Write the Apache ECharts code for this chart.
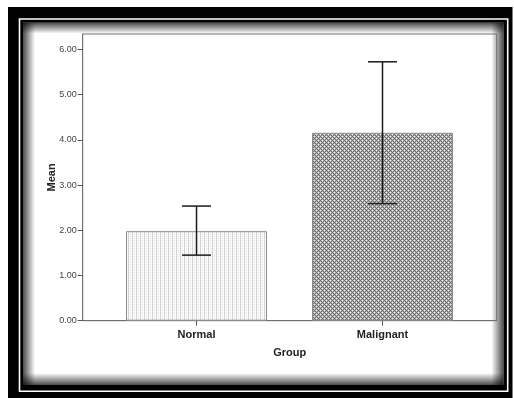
<!DOCTYPE html>
<html lang="en">
<head>
  <meta charset="UTF-8">
  <title>Mean by Group</title>
  <style>
    html, body { margin: 0; padding: 0; background: #fff; }
    #chart { width: 514px; height: 398px; }
  </style>
</head>
<body>
  <div id="chart"></div>
  <script src="https://cdn.jsdelivr.net/npm/echarts@6.0.0/dist/echarts.min.js"></script>
  <script>
    // data
    const categories = ['Normal', 'Malignant'];
    const means = [1.98, 4.155];
    const errLow = [1.45, 2.59];
    const errHigh = [2.535, 5.725];
    const yTicks = [0, 1, 2, 3, 4, 5, 6];
    const catPos = [0, 1];

    // fill patterns drawn on small canvases
    function makeTile(size, paint) {
      const c = document.createElement('canvas');
      c.width = size; c.height = size;
      const ctx = c.getContext('2d');
      for (let y = 0; y < size; y++) {
        for (let x = 0; x < size; x++) {
          ctx.fillStyle = paint(x, y);
          ctx.fillRect(x, y, 1, 1);
        }
      }
      return c;
    }
    // light dotted vertical stripes
    const dotTile = makeTile(4, (x, y) => {
      if (x === 0) return y % 2 === 0 ? '#c4c4c4' : '#e2e2e2';
      return x === 2 ? '#f0f0f0' : '#fbfbfb';
    });
    // diamond cross hatch
    const hatchTile = makeTile(4, (x, y) => {
      if ((x + y) % 4 === 0 || (x - y + 4) % 4 === 0) return '#6c6c6c';
      if ((x === 2 && y === 0) || (x === 0 && y === 2)) return '#f4f4f4';
      return '#b4b4b4';
    });
    const patterns = [dotTile, hatchTile];

    const chart = echarts.init(document.getElementById('chart'));

    const shade = (x, y, w, h, gx, gy, gx2, gy2) => ({
      type: 'rect', z: -50, silent: true,
      shape: { x: x, y: y, width: w, height: h },
      style: {
        fill: new echarts.graphic.LinearGradient(gx, gy, gx2, gy2, [
          { offset: 0, color: 'rgba(0,0,0,0.7)' },
          { offset: 1, color: 'rgba(0,0,0,0)' }
        ])
      }
    });

    const option = {
      animation: false,
      backgroundColor: '#fff',
      textStyle: { fontFamily: '"Liberation Sans", Arial, sans-serif' },
      graphic: [
        { type: 'rect', z: -100, silent: true, shape: { x: 8, y: 7, width: 504.5, height: 392 }, style: { fill: '#000' } },
        { type: 'rect', z: -99, silent: true, shape: { x: 19.5, y: 19, width: 488.2, height: 372.3 }, style: { fill: 'none', stroke: '#fff', lineWidth: 1.6 } },
        { type: 'rect', z: -98, silent: true, shape: { x: 23, y: 22.7, width: 480.5, height: 362.3 }, style: { fill: '#fff' } },
        shade(23, 22.7, 12, 362.3, 0, 0, 1, 0),
        shade(23, 22.7, 480.5, 11, 0, 0, 0, 1),
        shade(491.5, 22.7, 12, 362.3, 1, 0, 0, 0),
        shade(23, 373, 480.5, 12, 0, 1, 0, 0)
      ],
      grid: {
        left: 82.7,
        top: 34,
        right: 17.3,
        bottom: 77.3,
        show: true,
        borderColor: '#707070',
        borderWidth: 1,
        containLabel: false,
        outerBoundsMode: 'none'
      },
      xAxis: {
        type: 'value',
        min: -0.612,
        max: 1.614,
        name: 'Group',
        nameLocation: 'middle',
        nameGap: 27,
        nameMoveOverlap: false,
        nameTextStyle: { fontSize: 11, fontWeight: 'bold', color: '#222' },
        axisLine: { show: true, onZero: false, lineStyle: { color: '#707070' } },
        axisTick: { show: true, length: 5, customValues: catPos, lineStyle: { color: '#555' } },
        axisLabel: {
          customValues: catPos,
          margin: 9,
          fontSize: 11,
          fontWeight: 'bold',
          color: '#222',
          formatter: v => categories[Math.round(v)]
        },
        splitLine: { show: false }
      },
      yAxis: {
        type: 'value',
        min: 0,
        max: 6.34,
        name: 'Mean',
        nameLocation: 'middle',
        nameGap: 25,
        nameMoveOverlap: false,
        nameTextStyle: { fontSize: 11, fontWeight: 'bold', color: '#222' },
        axisLine: { show: true, onZero: false, lineStyle: { color: '#707070' } },
        axisTick: { show: true, length: 5, customValues: yTicks, lineStyle: { color: '#555' } },
        axisLabel: {
          customValues: yTicks,
          margin: 6,
          fontSize: 9,
          color: '#444',
          formatter: v => v.toFixed(2)
        },
        splitLine: { show: false }
      },
      series: [
        {
          type: 'bar',
          barWidth: 141,
          data: means.map((m, i) => ({
            value: [catPos[i], m],
            itemStyle: {
              color: { image: patterns[i], repeat: 'repeat' },
              borderColor: '#8c8c8c',
              borderWidth: 1
            }
          }))
        },
        {
          type: 'custom',
          z: 5,
          data: means.map((m, i) => [catPos[i], errLow[i], errHigh[i]]),
          renderItem: function (params, api) {
            const x = api.value(0);
            const lo = api.coord([x, api.value(1)]);
            const hi = api.coord([x, api.value(2)]);
            const half = 14.5;
            const style = { stroke: '#1a1a1a', lineWidth: 1.5 };
            return {
              type: 'group',
              children: [
                { type: 'line', shape: { x1: hi[0], y1: hi[1], x2: lo[0], y2: lo[1] }, style: style },
                { type: 'line', shape: { x1: hi[0] - half, y1: hi[1], x2: hi[0] + half, y2: hi[1] }, style: style },
                { type: 'line', shape: { x1: lo[0] - half, y1: lo[1], x2: lo[0] + half, y2: lo[1] }, style: style }
              ]
            };
          }
        }
      ]
    };

    chart.setOption(option);
  </script>
</body>
</html>
